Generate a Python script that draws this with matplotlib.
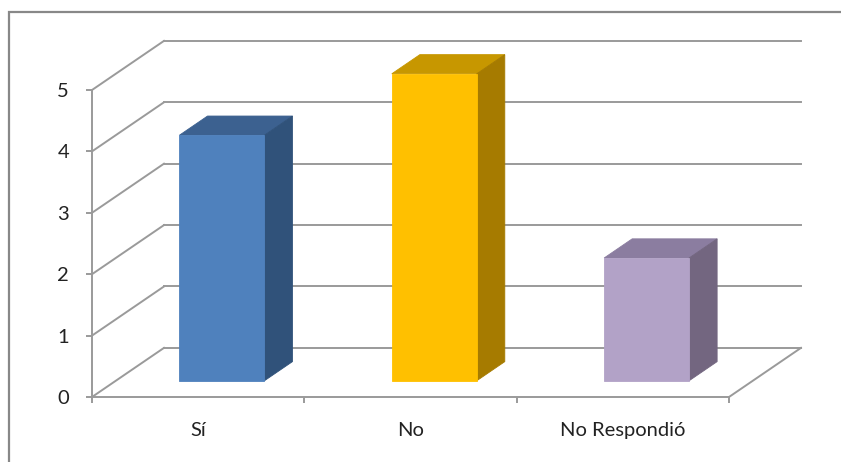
import matplotlib.pyplot as plt
from matplotlib.patches import Polygon, Rectangle

# Respuestas
categorias = ["Sí", "No", "No Respondió"]
valores = [4, 5, 2]
y_ticks = [0, 1, 2, 3, 4, 5]

# colores de cada barra: frente, techo, lateral
col_frente = ["#4F81BD", "#FFC000", "#B2A2C7"]
col_techo = ["#3C6190", "#C79700", "#8B7DA0"]
col_lado = ["#30527A", "#A67B00", "#736680"]

grid_color = "#9A9A9A"

# profundidad de la perspectiva (unidades de datos)
DX, DY = 0.339, 0.80
bar_w = 0.40
d0, d1 = 0.33, 0.72   # posicion de la barra dentro de la profundidad


def proj(x, y, d):
    return (x + d * DX, y + d * DY)


fig = plt.figure(figsize=(8.41, 4.62), dpi=100)
fig.patches.append(Rectangle((9 / 841, -0.1), 1.1, (462 - 12) / 462 + 0.1,
                             transform=fig.transFigure, fill=False,
                             edgecolor="#888888", linewidth=1.6))

ax = fig.add_axes([92 / 841, (462 - 397) / 462, 637 / 841, 307 / 462])
n = len(categorias)
ax.set_xlim(0, n)
ax.set_ylim(0, 5)

# paredes: lineas de division
for v in y_ticks:
    x0, y0 = proj(0, v, 1)
    x1, y1 = proj(n, v, 1)
    ax.plot([0, x0], [v, y0], color=grid_color, lw=1.4, clip_on=False, zorder=1)
    ax.plot([x0, x1], [y0, y1], color=grid_color, lw=1.4, clip_on=False, zorder=1)
xr, yr = proj(n, 0, 1)
ax.plot([n, xr], [0, yr], color=grid_color, lw=1.4, clip_on=False, zorder=1)


def cara(puntos, color):
    ax.add_patch(Polygon(puntos, closed=True, facecolor=color, edgecolor=color,
                         linewidth=0.6, joinstyle="miter", clip_on=False, zorder=3))


# barras 3D
for i, v in enumerate(valores):
    xl = i + 0.5 - bar_w / 2
    xh = i + 0.5 + bar_w / 2
    a = proj(xl, 0, d0)
    b = proj(xh, 0, d0)
    c = proj(xh, v, d0)
    e = proj(xl, v, d0)
    f = proj(xl, v, d1)
    g = proj(xh, v, d1)
    h = proj(xh, 0, d1)
    cara([e, c, g, f], col_techo[i])
    cara([b, h, g, c], col_lado[i])
    cara([a, b, c, e], col_frente[i])

for s in ["top", "right"]:
    ax.spines[s].set_visible(False)
for s in ["left", "bottom"]:
    ax.spines[s].set_color(grid_color)
    ax.spines[s].set_linewidth(1.4)
ax.patch.set_visible(False)

ax.set_yticks(y_ticks)
ax.set_yticklabels([str(t) for t in y_ticks])
ax.set_xticks([i + 0.5 for i in range(n)])
ax.set_xticklabels(categorias)
ax.set_xticks(range(n + 1), minor=True)
ax.tick_params(axis="y", length=4.5, width=1.4, color=grid_color, pad=12,
               labelsize=14.5, labelcolor="#222222")
ax.tick_params(axis="x", which="major", length=0, pad=18,
               labelsize=14.5, labelcolor="#222222")
ax.tick_params(axis="x", which="minor", length=4.5, width=1.4, color=grid_color)
for lab in ax.get_xticklabels() + ax.get_yticklabels():
    lab.set_fontfamily("Lato")

fig.savefig("out.png", dpi=100)
